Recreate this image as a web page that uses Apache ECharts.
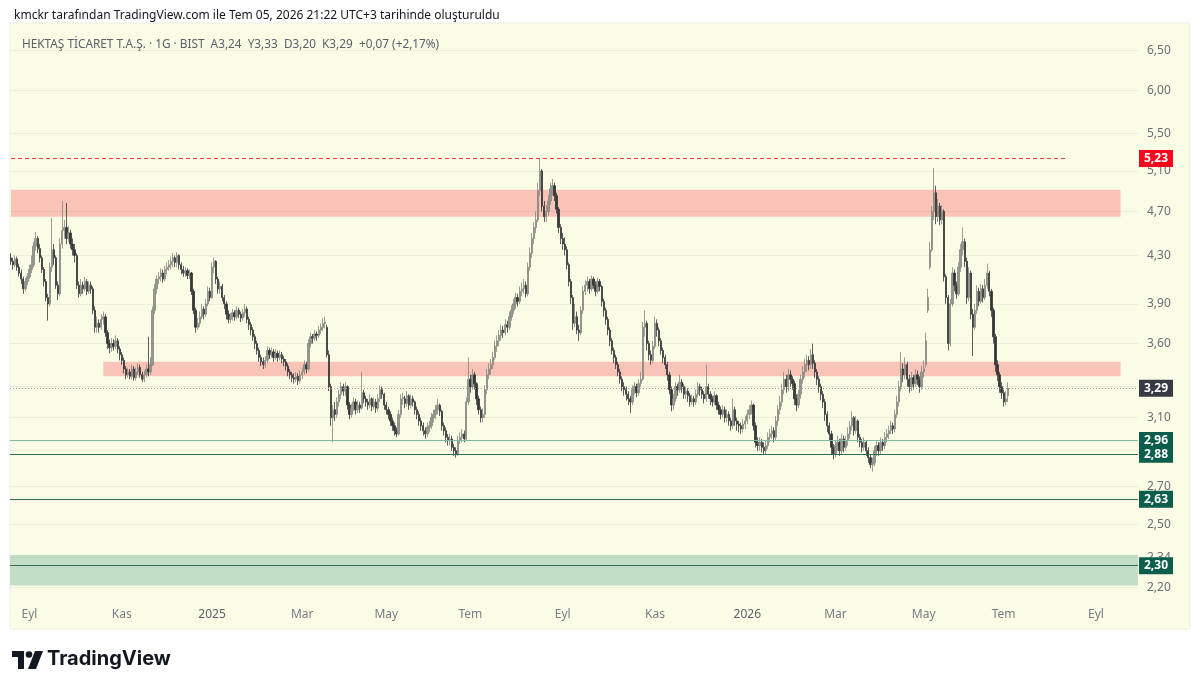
<!DOCTYPE html>
<html>
<head>
<meta charset="utf-8">
<title>HEKTAŞ 1G · BIST</title>
<script src="https://cdn.jsdelivr.net/npm/echarts@6/dist/echarts.min.js"></script>
<style>
html, body { margin: 0; padding: 0; background: #ffffff; }
#chart { width: 1200px; height: 690px; }
</style>
</head>
<body>
<div id="chart"></div>
<script>
// daily bars: [open, close, low, high]
var candles = [
[4.28,4.25,4.22,4.32],[4.25,4.22,4.18,4.28],[4.22,4.27,4.2,4.3],[4.27,4.2,4.17,4.29],[4.2,4.15,4.12,4.23],
[4.15,4.1,4.06,4.18],[4.1,4.02,3.98,4.12],[4.02,4.08,4.0,4.11],[4.08,4.12,4.05,4.15],[4.12,4.18,4.1,4.22],
[4.18,4.22,4.15,4.3],[4.22,4.38,4.2,4.42],[4.38,4.45,4.34,4.51],[4.45,4.36,4.32,4.47],[4.36,4.28,4.24,4.4],
[4.28,4.18,4.15,4.3],[4.18,4.08,4.04,4.2],[4.08,3.95,3.92,4.1],[3.95,3.9,3.77,3.98],[3.9,4.2,3.88,4.24],
[4.2,4.35,4.16,4.64],[4.35,4.28,4.22,4.4],[4.28,4.05,4.02,4.3],[4.05,3.98,3.93,4.08],[3.98,4.4,3.96,4.45],
[4.4,4.52,4.36,4.8],[4.52,4.55,4.45,4.62],[4.55,4.45,4.4,4.78],[4.45,4.5,4.42,4.56],[4.5,4.4,4.36,4.53],
[4.4,4.35,4.3,4.45],[4.35,4.3,4.24,4.4],[4.3,4.05,4.02,4.32],[4.05,3.98,3.95,4.08],[3.98,4.05,3.96,4.1],
[4.05,4.02,3.98,4.08],[4.02,4.08,4.0,4.12],[4.08,4.0,3.97,4.1],[4.0,4.05,3.98,4.08],[4.05,4.02,3.98,4.08],
[4.02,3.85,3.82,4.04],[3.85,3.72,3.68,3.88],[3.72,3.75,3.68,3.8],[3.75,3.72,3.68,3.78],[3.72,3.78,3.7,3.82],
[3.78,3.8,3.74,3.84],[3.8,3.68,3.65,3.82],[3.68,3.6,3.56,3.7],[3.6,3.57,3.53,3.63],[3.57,3.6,3.54,3.64],
[3.6,3.58,3.55,3.63],[3.58,3.62,3.56,3.66],[3.62,3.56,3.53,3.64],[3.56,3.52,3.48,3.58],[3.52,3.48,3.45,3.54],
[3.48,3.42,3.39,3.5],[3.42,3.38,3.35,3.44],[3.38,3.4,3.36,3.43],[3.4,3.37,3.35,3.42],[3.37,3.42,3.35,3.45],
[3.42,3.36,3.34,3.44],[3.36,3.4,3.34,3.43],[3.4,3.43,3.38,3.46],[3.43,3.38,3.36,3.45],[3.38,3.35,3.33,3.4],
[3.35,3.38,3.33,3.41],[3.38,3.42,3.36,3.45],[3.42,3.4,3.37,3.65],[3.4,3.45,3.38,3.5],[3.45,3.85,3.44,3.88],
[3.85,4.02,3.82,4.06],[4.02,4.1,3.98,4.13],[4.1,4.12,4.06,4.16],[4.12,4.15,4.08,4.19],[4.15,4.1,4.07,4.18],
[4.1,4.18,4.08,4.21],[4.18,4.2,4.14,4.24],[4.2,4.22,4.17,4.26],[4.22,4.25,4.18,4.29],[4.25,4.28,4.2,4.32],
[4.28,4.24,4.2,4.3],[4.24,4.3,4.2,4.33],[4.3,4.22,4.18,4.31],[4.22,4.18,4.14,4.24],[4.18,4.15,4.12,4.21],
[4.15,4.17,4.12,4.2],[4.17,4.13,4.1,4.19],[4.13,4.15,4.1,4.18],[4.15,4.0,3.97,4.16],[4.0,3.85,3.82,4.02],
[3.85,3.72,3.68,3.87],[3.72,3.75,3.7,3.79],[3.75,3.8,3.72,3.84],[3.8,3.86,3.78,3.9],[3.86,3.82,3.78,3.88],
[3.82,3.9,3.8,3.94],[3.9,4.0,3.88,4.04],[4.0,3.95,3.92,4.03],[3.95,4.2,3.94,4.24],[4.2,4.25,4.15,4.28],
[4.25,4.1,4.06,4.26],[4.1,4.02,3.98,4.12],[4.02,4.04,3.98,4.08],[4.04,3.95,3.92,4.06],[3.95,3.9,3.86,3.97],
[3.9,3.82,3.78,3.92],[3.82,3.78,3.75,3.85],[3.78,3.8,3.75,3.83],[3.8,3.83,3.77,3.86],[3.83,3.8,3.77,3.85],
[3.8,3.85,3.78,3.88],[3.85,3.82,3.79,3.87],[3.82,3.79,3.76,3.84],[3.79,3.83,3.77,3.86],[3.83,3.86,3.8,3.9],
[3.86,3.78,3.75,3.88],[3.78,3.74,3.7,3.8],[3.74,3.7,3.66,3.76],[3.7,3.65,3.62,3.72],[3.65,3.6,3.56,3.67],
[3.6,3.55,3.52,3.62],[3.55,3.5,3.47,3.57],[3.5,3.47,3.44,3.52],[3.47,3.45,3.42,3.5],[3.45,3.48,3.43,3.51],
[3.48,3.55,3.46,3.58],[3.55,3.52,3.49,3.57],[3.52,3.54,3.5,3.57],[3.54,3.5,3.47,3.56],[3.5,3.53,3.48,3.56],
[3.53,3.5,3.47,3.55],[3.5,3.52,3.48,3.55],[3.52,3.49,3.46,3.54],[3.49,3.47,3.44,3.51],[3.47,3.44,3.41,3.49],
[3.44,3.4,3.37,3.46],[3.4,3.38,3.35,3.42],[3.38,3.36,3.33,3.4],[3.36,3.35,3.32,3.39],[3.35,3.37,3.33,3.4],
[3.37,3.34,3.31,3.39],[3.34,3.38,3.32,3.41],[3.38,3.4,3.35,3.43],[3.4,3.45,3.38,3.48],[3.45,3.42,3.39,3.47],
[3.42,3.6,3.41,3.63],[3.6,3.65,3.57,3.68],[3.65,3.64,3.6,3.67],[3.64,3.67,3.62,3.7],[3.67,3.66,3.62,3.69],
[3.66,3.7,3.64,3.73],[3.7,3.72,3.67,3.75],[3.72,3.75,3.69,3.79],[3.75,3.76,3.71,3.8],[3.72,3.52,3.5,3.74],
[3.52,3.3,3.27,3.55],[3.3,3.1,3.05,3.32],[3.1,3.15,2.95,3.18],[3.15,3.12,3.08,3.2],[3.12,3.2,3.1,3.23],
[3.2,3.25,3.17,3.28],[3.25,3.3,3.22,3.33],[3.3,3.27,3.24,3.32],[3.27,3.3,3.24,3.33],[3.3,3.18,3.15,3.31],
[3.18,3.12,3.09,3.2],[3.12,3.16,3.1,3.19],[3.16,3.2,3.14,3.23],[3.2,3.15,3.12,3.22],[3.15,3.18,3.13,3.21],
[3.18,3.16,3.13,3.2],[3.16,3.26,3.15,3.4],[3.26,3.22,3.19,3.28],[3.22,3.2,3.17,3.24],[3.2,3.18,3.15,3.22],
[3.18,3.22,3.16,3.25],[3.22,3.17,3.14,3.23],[3.17,3.2,3.15,3.23],[3.2,3.16,3.13,3.22],[3.16,3.22,3.14,3.25],
[3.22,3.28,3.2,3.31],[3.28,3.25,3.22,3.3],[3.25,3.18,3.15,3.26],[3.18,3.15,3.12,3.2],[3.15,3.12,3.09,3.17],
[3.12,3.08,3.05,3.14],[3.08,3.05,3.02,3.1],[3.05,3.02,2.99,3.07],[3.02,3.0,2.98,3.04],[3.0,3.12,2.99,3.15],
[3.12,3.22,3.1,3.25],[3.22,3.23,3.18,3.26],[3.22,3.19,3.16,3.24],[3.19,3.24,3.17,3.27],[3.24,3.18,3.15,3.25],
[3.18,3.22,3.16,3.25],[3.22,3.2,3.17,3.24],[3.2,3.15,3.12,3.21],[3.15,3.12,3.09,3.17],[3.12,3.08,3.05,3.14],
[3.08,3.05,3.02,3.1],[3.05,3.02,2.99,3.07],[3.02,3.0,2.97,3.04],[3.0,3.04,2.98,3.07],[3.04,3.05,3.01,3.08],
[3.05,3.1,3.03,3.13],[3.1,3.12,3.07,3.15],[3.12,3.15,3.09,3.18],[3.15,3.18,3.12,3.22],[3.18,3.14,3.11,3.19],
[3.14,3.05,3.02,3.15],[3.05,3.02,2.99,3.07],[3.02,2.98,2.95,3.04],[2.98,2.96,2.93,3.0],[2.96,2.97,2.93,3.0],
[2.97,2.92,2.9,2.99],[2.92,2.9,2.87,2.94],[2.9,2.88,2.86,2.92],[2.88,2.96,2.87,2.99],[2.96,2.98,2.94,3.01],
[2.98,3.0,2.95,3.03],[3.0,2.97,2.95,3.02],[2.97,3.2,2.96,3.23],[3.2,3.35,3.18,3.5],[3.35,3.3,3.26,3.38],
[3.3,3.38,3.28,3.42],[3.38,3.32,3.28,3.4],[3.32,3.22,3.18,3.33],[3.22,3.15,3.12,3.24],[3.15,3.1,3.07,3.17],
[3.1,3.12,3.07,3.16],[3.12,3.28,3.1,3.31],[3.28,3.38,3.25,3.42],[3.38,3.42,3.35,3.46],[3.42,3.45,3.38,3.49],
[3.45,3.5,3.42,3.54],[3.5,3.58,3.48,3.62],[3.58,3.62,3.54,3.66],[3.62,3.66,3.58,3.7],[3.66,3.7,3.62,3.74],
[3.7,3.68,3.64,3.73],[3.68,3.74,3.66,3.78],[3.74,3.72,3.68,3.77],[3.72,3.8,3.7,3.84],[3.8,3.85,3.77,3.89],
[3.85,3.9,3.82,3.94],[3.9,3.95,3.86,3.99],[3.95,3.92,3.88,3.98],[3.92,4.0,3.9,4.04],[4.0,4.02,3.96,4.07],
[4.02,4.05,3.98,4.1],[4.05,3.98,3.95,4.08],[3.98,4.2,3.96,4.24],[4.2,4.32,4.17,4.37],[4.32,4.45,4.28,4.5],
[4.45,4.55,4.4,4.6],[4.55,4.62,4.5,4.7],[4.62,4.9,4.6,4.98],[4.9,5.1,4.85,5.23],[5.1,4.75,4.7,5.12],
[4.75,4.65,4.6,4.8],[4.65,4.7,4.6,4.76],[4.7,4.8,4.66,4.86],[4.8,4.92,4.76,4.98],[4.92,4.95,4.85,5.02],
[4.95,4.85,4.8,4.98],[4.85,4.72,4.68,4.88],[4.72,4.55,4.5,4.74],[4.55,4.45,4.4,4.58],[4.45,4.4,4.35,4.5],
[4.4,4.35,4.3,4.46],[4.35,4.22,4.18,4.38],[4.22,4.08,4.04,4.24],[4.08,3.95,3.9,4.1],[3.95,3.75,3.7,3.97],
[3.75,3.8,3.72,3.9],[3.8,3.7,3.67,3.84],[3.7,3.68,3.62,3.74],[3.68,3.85,3.66,3.88],[3.85,4.0,3.82,4.04],
[4.0,4.05,3.97,4.09],[4.05,4.08,4.0,4.12],[4.08,4.02,3.98,4.1],[4.02,4.1,4.0,4.13],[4.1,4.05,4.02,4.12],
[4.05,4.0,3.96,4.08],[4.0,4.08,3.98,4.11],[4.08,4.04,4.0,4.1],[4.04,3.92,3.88,4.05],[3.92,3.85,3.8,3.94],
[3.85,3.78,3.74,3.87],[3.78,3.7,3.66,3.8],[3.7,3.62,3.58,3.72],[3.62,3.55,3.52,3.64],[3.55,3.5,3.46,3.57],
[3.5,3.45,3.42,3.52],[3.45,3.4,3.37,3.47],[3.4,3.35,3.32,3.42],[3.35,3.3,3.27,3.37],[3.3,3.28,3.24,3.33],
[3.28,3.25,3.21,3.3],[3.25,3.22,3.18,3.27],[3.22,3.2,3.13,3.24],[3.2,3.28,3.18,3.31],[3.28,3.3,3.25,3.33],
[3.3,3.26,3.23,3.32],[3.26,3.32,3.24,3.35],[3.32,3.35,3.3,3.4],[3.35,3.72,3.34,3.76],[3.72,3.75,3.65,3.85],
[3.75,3.6,3.55,3.77],[3.6,3.52,3.48,3.62],[3.52,3.48,3.45,3.55],[3.48,3.58,3.46,3.62],[3.58,3.75,3.56,3.8],
[3.75,3.7,3.65,3.78],[3.7,3.62,3.58,3.72],[3.62,3.55,3.52,3.64],[3.55,3.5,3.46,3.57],[3.5,3.45,3.42,3.52],
[3.45,3.38,3.34,3.47],[3.38,3.28,3.25,3.4],[3.28,3.18,3.14,3.3],[3.18,3.22,3.15,3.25],[3.22,3.3,3.2,3.33],
[3.3,3.28,3.24,3.32],[3.28,3.33,3.26,3.38],[3.33,3.3,3.26,3.35],[3.3,3.25,3.22,3.32],[3.25,3.27,3.22,3.3],
[3.27,3.24,3.2,3.29],[3.24,3.2,3.17,3.26],[3.2,3.22,3.18,3.25],[3.22,3.2,3.17,3.24],[3.2,3.25,3.18,3.28],
[3.25,3.3,3.23,3.33],[3.3,3.28,3.24,3.32],[3.28,3.25,3.22,3.3],[3.25,3.22,3.19,3.27],[3.22,3.3,3.2,3.45],
[3.3,3.25,3.22,3.32],[3.25,3.22,3.18,3.27],[3.22,3.2,3.17,3.24],[3.2,3.24,3.18,3.27],[3.24,3.18,3.15,3.25],
[3.18,3.15,3.12,3.2],[3.15,3.12,3.09,3.17],[3.12,3.15,3.1,3.18],[3.15,3.1,3.07,3.17],[3.1,3.12,3.07,3.15],
[3.12,3.08,3.05,3.14],[3.08,3.05,3.02,3.1],[3.05,3.15,3.03,3.22],[3.15,3.08,3.05,3.17],[3.08,3.06,3.02,3.1],
[3.06,3.05,3.01,3.08],[3.05,3.03,3.0,3.07],[3.03,3.06,3.01,3.09],[3.06,3.08,3.03,3.11],[3.08,3.12,3.06,3.15],
[3.12,3.15,3.09,3.18],[3.15,3.18,3.12,3.21],[3.18,3.05,3.02,3.19],[3.05,2.95,2.92,3.07],[2.95,2.93,2.9,2.98],
[2.93,2.95,2.9,2.98],[2.95,2.92,2.89,2.97],[2.92,2.9,2.88,2.95],[2.9,2.93,2.88,2.96],[2.93,2.98,2.91,3.01],
[2.98,3.0,2.95,3.03],[3.0,3.02,2.97,3.05],[3.02,2.98,2.95,3.04],[2.98,3.08,2.96,3.11],[3.08,3.15,3.05,3.18],
[3.15,3.2,3.12,3.24],[3.2,3.28,3.17,3.32],[3.28,3.35,3.25,3.4],[3.35,3.3,3.26,3.38],[3.3,3.38,3.27,3.42],
[3.38,3.35,3.3,3.41],[3.35,3.32,3.28,3.37],[3.32,3.22,3.18,3.34],[3.22,3.18,3.14,3.25],[3.18,3.25,3.16,3.28],
[3.25,3.35,3.22,3.38],[3.35,3.4,3.32,3.44],[3.4,3.45,3.36,3.49],[3.45,3.48,3.4,3.52],[3.48,3.45,3.41,3.51],
[3.45,3.52,3.42,3.56],[3.52,3.46,3.42,3.6],[3.46,3.4,3.36,3.48],[3.4,3.35,3.31,3.42],[3.35,3.3,3.26,3.37],
[3.3,3.25,3.21,3.32],[3.25,3.2,3.16,3.27],[3.2,3.12,3.08,3.22],[3.12,3.05,3.01,3.14],[3.05,3.0,2.96,3.07],
[3.0,2.92,2.88,3.02],[2.92,2.88,2.85,2.94],[2.88,2.93,2.86,2.96],[2.93,2.95,2.9,2.99],[2.95,2.9,2.87,2.97],
[2.9,2.97,2.88,3.0],[2.97,2.92,2.89,2.99],[2.92,2.96,2.9,2.99],[2.96,3.0,2.93,3.04],[3.0,3.05,2.97,3.08],
[3.05,3.1,3.02,3.14],[3.1,3.02,2.99,3.11],[3.02,3.08,3.0,3.11],[3.08,2.98,2.95,3.09],[2.98,2.95,2.92,3.0],
[2.95,2.92,2.89,2.97],[2.92,2.95,2.9,2.98],[2.95,2.9,2.87,2.96],[2.9,2.86,2.83,2.92],[2.86,2.82,2.8,2.88],
[2.82,2.83,2.78,2.86],[2.83,2.9,2.81,2.93],[2.9,2.93,2.87,2.96],[2.93,2.9,2.87,2.95],[2.9,2.95,2.88,2.98],
[2.95,2.93,2.9,2.97],[2.93,2.98,2.91,3.01],[2.98,3.0,2.95,3.03],[3.0,3.02,2.97,3.05],[3.02,3.05,3.0,3.08],
[3.05,3.03,3.0,3.07],[3.03,3.12,3.01,3.15],[3.12,3.2,3.1,3.24],[3.2,3.3,3.17,3.34],[3.3,3.42,3.27,3.54],
[3.42,3.38,3.33,3.46],[3.38,3.45,3.35,3.5],[3.45,3.35,3.3,3.47],[3.35,3.3,3.26,3.38],[3.3,3.36,3.27,3.4],
[3.36,3.32,3.28,3.38],[3.32,3.38,3.3,3.42],[3.38,3.35,3.31,3.41],[3.35,3.3,3.26,3.37],[3.3,3.4,3.28,3.44],
[3.4,3.42,3.36,3.48],[3.45,3.62,3.43,3.68],[3.85,3.95,3.83,4.02],[4.2,4.35,4.18,4.42],[4.35,4.7,4.33,4.75],
[4.7,4.88,4.62,5.13],[4.88,4.65,4.58,4.95],[4.65,4.75,4.6,4.82],[4.75,4.62,4.57,4.78],[4.62,4.7,4.58,4.76],
[4.7,4.12,4.08,4.72],[4.12,3.95,3.9,4.14],[3.95,3.6,3.55,3.97],[3.6,3.9,3.58,3.94],[3.9,4.15,3.88,4.2],
[4.15,4.05,4.0,4.18],[4.05,3.98,3.94,4.08],[3.98,4.2,3.96,4.24],[4.2,4.35,4.16,4.4],[4.35,4.42,4.3,4.55],
[4.42,4.25,4.2,4.45],[4.25,3.95,3.9,4.28],[3.95,4.15,3.92,4.2],[4.15,3.82,3.78,4.17],[3.82,3.72,3.51,3.86],
[3.72,3.85,3.7,3.9],[3.85,4.0,3.82,4.05],[4.0,3.92,3.88,4.03],[3.92,4.02,3.9,4.06],[4.02,3.95,3.91,4.05],
[3.95,4.05,3.93,4.1],[4.05,4.15,4.02,4.23],[4.15,4.0,3.96,4.17],[4.0,3.85,3.8,4.02],[3.85,3.65,3.6,3.87],
[3.65,3.45,3.4,3.67],[3.45,3.38,3.34,3.48],[3.38,3.3,3.26,3.4],[3.3,3.26,3.22,3.33],[3.26,3.2,3.17,3.28],
[3.2,3.22,3.18,3.27],[3.24,3.29,3.2,3.33]
];

// bar slots on the time axis (data + empty future bars up to the right edge)
var slotCount = 550;
var monthTicks = [9, 54, 98, 142, 183, 224, 269, 314, 359, 402, 445, 484, 529];
var monthNames = ['Eyl', 'Kas', '2025', 'Mar', 'May', 'Tem', 'Eyl', 'Kas', '2026', 'Mar', 'May', 'Tem', 'Eyl'];

// price scale (log), tick values shown on the right
var priceMin = 2.146, priceMax = 6.873;
var priceTicks = [6.5, 6.0, 5.5, 5.1, 4.7, 4.3, 3.9, 3.6, 3.3, 3.1, 2.9, 2.7, 2.5, 2.34, 2.2];

// drawn zones [top, bottom] and levels
var zoneTop = [4.91, 4.65];
var zoneMid = [3.47, 3.37];
var zoneLow = [2.35, 2.21];
var peakLevel = 5.23;
var lastPrice = 3.29;
var supportLevels = [2.96, 2.88, 2.63, 2.30];

var categories = [];
for (var i = 0; i < slotCount; i++) categories.push(String(i));

function fmt(v) { return Number(v).toFixed(2).replace('.', ','); }

var chart = echarts.init(document.getElementById('chart'), null, { renderer: 'canvas' });

var FONT = 'Noto Sans';
var boxLabel = {
  show: true, position: 'end', distance: 1, color: '#ffffff', fontSize: 12, fontWeight: 'bold',
  fontFamily: FONT, padding: [2, 5, 1, 5], lineHeight: 14,
  formatter: function (p) { return fmt(p.value); }
};

var tickLines = priceTicks.map(function (v) { return { yAxis: v }; });

var levelLines = [
  [{ coord: ['0', peakLevel], label: { show: false } }, { coord: ['515', peakLevel] }],
  { yAxis: peakLevel, lineStyle: { color: 'rgba(0,0,0,0)', width: 1 }, label: { show: true, backgroundColor: '#f7071e' } },
  { yAxis: lastPrice, lineStyle: { color: '#9a9ca3', type: [1, 2], width: 1 }, label: { backgroundColor: '#363a45' } },
  { yAxis: supportLevels[0], lineStyle: { color: '#80b8a6', type: 'solid', width: 1 }, label: { backgroundColor: '#0b5e4c' } },
  { yAxis: supportLevels[1], lineStyle: { color: '#2f6a5b', type: 'solid', width: 1 }, label: { backgroundColor: '#0b5e4c' } },
  { yAxis: supportLevels[2], lineStyle: { color: '#35625a', type: 'solid', width: 1 }, label: { backgroundColor: '#0b5e4c' } },
  { yAxis: supportLevels[3], lineStyle: { color: '#2f6a5b', type: 'solid', width: 1 }, label: { backgroundColor: '#0b5e4c' } }
];

var option = {
  animation: false,
  backgroundColor: '#ffffff',
  textStyle: { fontFamily: FONT },
  title: [
    {
      text: 'kmckr tarafından TradingView.com ile Tem 05, 2026 21:22 UTC+3 tarihinde oluşturuldu',
      left: 9, top: 5,
      textStyle: { fontSize: 12, fontWeight: 'normal', color: '#131722', fontFamily: FONT }
    },
    {
      text: 'HEKTAŞ TİCARET T.A.Ş. · 1G · BIST  A3,24  Y3,33  D3,20  K3,29  +0,07 (+2,17%)',
      left: 17, top: 34,
      textStyle: { fontSize: 11.8, fontWeight: 'normal', color: '#5d606b', fontFamily: FONT }
    }
  ],
  graphic: [
    { type: 'rect', z: -10, silent: true, shape: { x: 10, y: 23, width: 1180, height: 606 },
      style: { fill: '#fbfce6', stroke: '#eeeee4', lineWidth: 1 } },
    { type: 'polygon', shape: { points: [[12, 651], [24, 651], [24, 669], [18, 669], [18, 657], [12, 657]] }, style: { fill: '#131722' } },
    { type: 'circle', shape: { cx: 29, cy: 654.5, r: 3.3 }, style: { fill: '#131722' } },
    { type: 'polygon', shape: { points: [[35, 651], [43, 651], [36, 669], [28, 669]] }, style: { fill: '#131722' } },
    { type: 'text', left: 47, top: 649, style: { text: 'TradingView', fontSize: 20, fontWeight: 'bold', fontFamily: 'Inter', fill: '#131722' } }
  ],
  grid: { left: 10, top: 23, width: 1128, height: 577, containLabel: false },
  xAxis: {
    type: 'category',
    data: categories,
    boundaryGap: true,
    axisLine: { show: false },
    axisTick: { show: false },
    splitLine: { show: false },
    axisLabel: {
      interval: function (index) { return monthTicks.indexOf(index) >= 0; },
      formatter: function (value, index) {
        var k = monthTicks.indexOf(Number(value));
        if (k < 0) return '';
        var t = monthNames[k];
        return /^\d{4}$/.test(t) ? '{y|' + t + '}' : t;
      },
      margin: 9,
      color: '#787b86',
      fontSize: 12,
      fontFamily: FONT,
      rich: { y: { color: '#5d606b', fontSize: 12, fontFamily: FONT } }
    }
  },
  yAxis: {
    type: 'log',
    logBase: 10,
    min: priceMin,
    max: priceMax,
    position: 'right',
    axisLine: { show: false },
    axisTick: { show: false },
    axisLabel: { show: false },
    splitLine: { show: false }
  },
  series: [
    {
      name: 'zones',
      type: 'line',
      data: [],
      z: 1,
      silent: true,
      markArea: {
        silent: true,
        itemStyle: { color: '#f9c4b8' },
        data: [
          [{ xAxis: '0', yAxis: zoneTop[0] }, { xAxis: '541', yAxis: zoneTop[1] }],
          [{ xAxis: '45', yAxis: zoneMid[0] }, { xAxis: '541', yAxis: zoneMid[1] }],
          [{ yAxis: zoneLow[0], itemStyle: { color: '#c3dec7' } }, { yAxis: zoneLow[1] }]
        ]
      },
      markLine: {
        silent: true,
        symbol: 'none',
        lineStyle: { color: 'rgba(60,60,20,0.07)', type: 'solid', width: 1 },
        label: {
          show: true, position: 'end', distance: 9, color: '#6a6d78', fontSize: 12, fontFamily: FONT,
          formatter: function (p) { return fmt(p.value); }
        },
        data: tickLines
      }
    },
    {
      name: 'HEKTS',
      type: 'candlestick',
      z: 2,
      data: candles,
      barWidth: 1.8,
      itemStyle: {
        color: '#96978f',
        color0: '#343537',
        borderColor: '#85867f',
        borderColor0: '#343537',
        borderWidth: 0.8
      }
    },
    {
      name: 'levels',
      type: 'line',
      data: [],
      z: 5,
      silent: true,
      markLine: {
        silent: true,
        symbol: 'none',
        lineStyle: { color: '#f23645', type: [4, 3], width: 1 },
        label: boxLabel,
        data: levelLines
      }
    }
  ]
};

chart.setOption(option);
</script>
</body>
</html>
